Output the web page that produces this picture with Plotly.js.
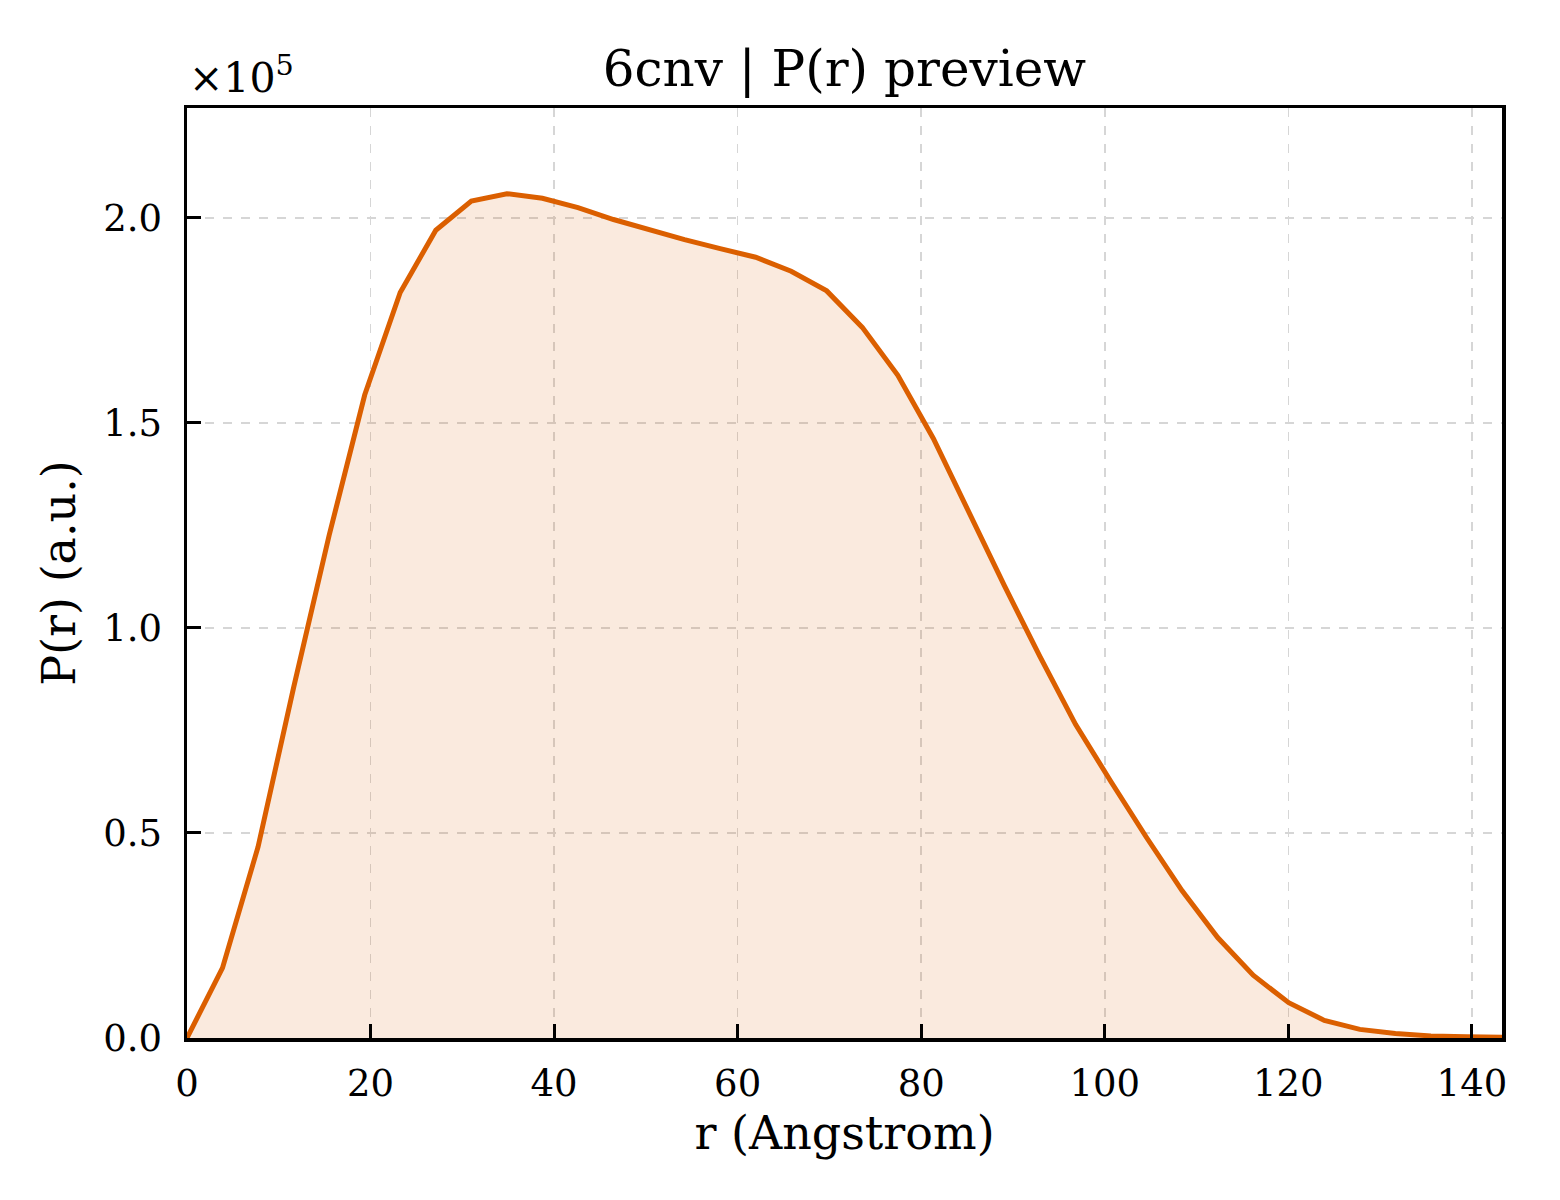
<!DOCTYPE html>
<html>
<head>
<meta charset="utf-8">
<script src="https://cdn.plot.ly/plotly-3.0.1.min.js"></script>
<style>
  html, body { margin: 0; padding: 0; background: #ffffff; }
  #chart { width: 1560px; height: 1200px; }
</style>
</head>
<body>
<div id="chart"></div>
<script>
// r in Angstrom
const rValues = [0, 3.87, 7.74, 11.62, 15.49, 19.36, 23.23, 27.11, 30.98, 34.85,
  38.72, 42.6, 46.47, 50.34, 54.21, 58.09, 61.96, 65.83, 69.7, 73.58,
  77.45, 81.32, 85.19, 89.06, 92.94, 96.81, 100.68, 104.55, 108.43, 112.3,
  116.17, 120.04, 123.92, 127.79, 131.66, 135.53, 139.4, 143.28];
// P(r) in arbitrary units
const prValues = [0, 17100, 46600, 85500, 122600, 156800, 181800, 197000, 204100, 205900,
  204800, 202500, 199600, 197000, 194700, 192500, 190400, 187000, 182200, 173300,
  161600, 146200, 128000, 110300, 93000, 76500, 62500, 48900, 35900, 24500,
  15300, 8600, 4300, 2100, 1100, 500, 300, 200];

const xTickVals = [0, 20, 40, 60, 80, 100, 120, 140];
const yTickVals = [0, 50000, 100000, 150000, 200000];
const yTickText = ['0.0', '0.5', '1.0', '1.5', '2.0'];

const font = 'DejaVu Serif, Liberation Serif, serif';

const trace = {
  x: rValues,
  y: prValues,
  type: 'scatter',
  mode: 'lines',
  fill: 'tozeroy',
  fillcolor: 'rgba(217,95,2,0.13)',
  line: { color: '#db5f00', width: 5 },
  hoverinfo: 'x+y'
};

const axisCommon = {
  showline: true,
  linecolor: '#000000',
  linewidth: 3.5,
  mirror: true,
  ticks: 'inside',
  ticklen: 14,
  tickwidth: 3,
  tickcolor: '#000000',
  showgrid: true,
  gridcolor: '#d6d6d6',
  gridwidth: 1.5,
  griddash: 'dash',
  zeroline: false,
  tickfont: { family: font, size: 37, color: '#000000' }
};

const layout = {
  width: 1560,
  height: 1200,
  paper_bgcolor: '#ffffff',
  plot_bgcolor: '#ffffff',
  margin: { l: 187, r: 58, t: 108, b: 162 },
  showlegend: false,
  title: {
    text: '6cnv | P(r) preview',
    font: { family: font, size: 50, color: '#000000' },
    x: 0.5413, xanchor: 'center',
    y: 0.943, yanchor: 'middle',
    xref: 'container', yref: 'container'
  },
  xaxis: Object.assign({}, axisCommon, {
    range: [0, 143.28],
    tickvals: xTickVals,
    ticklabelstandoff: 10,
    title: { text: 'r (Angstrom)', font: { family: font, size: 46, color: '#000000' }, standoff: 14 }
  }),
  yaxis: Object.assign({}, axisCommon, {
    range: [0, 226800],
    tickvals: yTickVals,
    ticktext: yTickText,
    ticklabelstandoff: 14,
    title: { text: 'P(r) (a.u.)', font: { family: font, size: 46, color: '#000000' }, standoff: 14 }
  }),
  annotations: [{
    text: '×10<sup>5</sup>',
    xref: 'paper', yref: 'paper',
    x: 0, y: 1,
    xanchor: 'left', yanchor: 'bottom',
    xshift: 0, yshift: 4,
    showarrow: false,
    font: { family: font, size: 41, color: '#000000' }
  }]
};

Plotly.newPlot('chart', [trace], layout, { displayModeBar: false, staticPlot: true });
</script>
</body>
</html>
